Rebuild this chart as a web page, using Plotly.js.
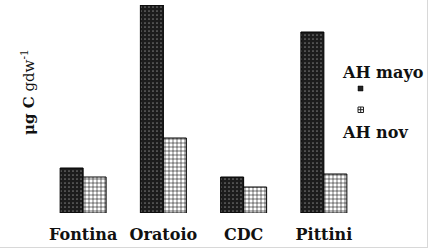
<!DOCTYPE html>
<html>
<head>
<meta charset="utf-8">
<script src="https://cdn.plot.ly/plotly-3.0.1.min.js"></script>
<style>html,body{margin:0;padding:0;background:#fff;}#chart{width:428px;height:248px;}</style>
</head>
<body>
<div id="chart"></div>
<script>
const categories = ["Fontina", "Oratoio", "CDC", "Pittini"];
const ahMayo = [45, 208, 36, 181];
const ahNov = [36, 75, 26, 39];
const seriesNames = ["AH mayo", "AH nov"];
const yTitle = "<b>μg C</b> gdw<sup>-1</sup>";

const L = 43, R = 64, T = 5, B = 35, W = 428, H = 248;
const pw = W - L - R, ph = H - T - B;
const px = v => (v - L) / pw;
const py = v => (H - B - v) / ph;

const serif = "DejaVu Serif, Liberation Serif, serif";

const traces = [
  {
    type: "bar", x: categories, y: ahMayo, name: seriesNames[0], showlegend: false,
    marker: {
      color: "#1a1a1a",
      line: {color: "#000", width: 1},
      pattern: {shape: ".", bgcolor: "#1c1c1c", fgcolor: "#777", size: 4, solidity: 0.15}
    }
  },
  {
    type: "bar", x: categories, y: ahNov, name: seriesNames[1], showlegend: false,
    marker: {
      color: "#fff",
      line: {color: "#000", width: 1},
      pattern: {shape: "+", bgcolor: "#fff", fgcolor: "#000", size: 4, solidity: 0.25}
    }
  }
];

const layout = {
  width: W, height: H,
  margin: {l: L, r: R, t: T, b: B, pad: 0},
  paper_bgcolor: "#fff", plot_bgcolor: "#fff",
  barmode: "group", bargap: 0.427, bargroupgap: 0,
  showlegend: false,
  xaxis: {
    showline: false, showgrid: false, zeroline: false, ticks: "",
    tickfont: {family: serif, size: 16, color: "#111", weight: "bold"},
    ticklabelstandoff: 10
  },
  yaxis: {visible: false, range: [0, 208], showgrid: false, zeroline: false},
  annotations: [
    {xref: "paper", yref: "paper", x: px(28), y: py(92), text: yTitle, textangle: -90,
     showarrow: false, font: {family: serif, size: 15, color: "#111"}, xanchor: "center", yanchor: "middle"},
    {xref: "paper", yref: "paper", x: px(340), y: py(72), text: "<b>" + seriesNames[0] + "</b>",
     showarrow: false, font: {family: serif, size: 16, color: "#111"}, xanchor: "left", yanchor: "middle"},
    {xref: "paper", yref: "paper", x: px(340), y: py(132), text: "<b>" + seriesNames[1] + "</b>",
     showarrow: false, font: {family: serif, size: 16, color: "#111"}, xanchor: "left", yanchor: "middle"}
  ],
  shapes: [
    {type: "rect", xref: "paper", yref: "paper", x0: px(358), x1: px(363), y0: py(91), y1: py(86),
     fillcolor: "#222", line: {color: "#000", width: 0.5}},
    {type: "rect", xref: "paper", yref: "paper", x0: px(358), x1: px(363.5), y0: py(112.5), y1: py(107),
     fillcolor: "#fff", line: {color: "#222", width: 1}},
    {type: "line", xref: "paper", yref: "paper", x0: px(358), x1: px(363.5), y0: py(109.7), y1: py(109.7),
     line: {color: "#222", width: 1}},
    {type: "line", xref: "paper", yref: "paper", x0: px(360.7), x1: px(360.7), y0: py(112.5), y1: py(107),
     line: {color: "#222", width: 1}},
    {type: "line", xref: "paper", yref: "paper", x0: px(0), x1: px(428), y0: py(247.5), y1: py(247.5),
     line: {color: "#d8d8d8", width: 1}},
    {type: "line", xref: "paper", yref: "paper", x0: px(427.5), x1: px(427.5), y0: py(0), y1: py(248),
     line: {color: "#d8d8d8", width: 1}}
  ]
};

Plotly.newPlot("chart", traces, layout, {staticPlot: true, displayModeBar: false});
</script>
</body>
</html>
